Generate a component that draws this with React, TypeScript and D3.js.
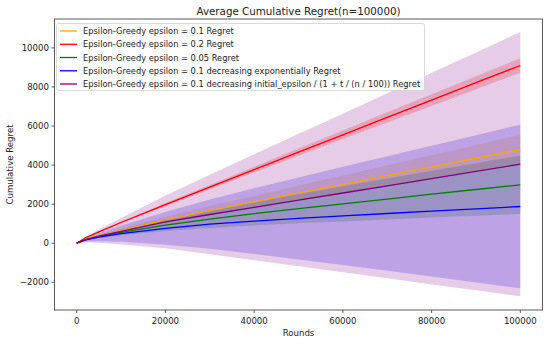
import React from "react";
import * as d3 from "d3";

const rounds = [0, 2000, 5000, 10000, 20000, 30000, 40000, 50000, 60000, 70000, 80000, 90000, 100000];

const seriesNames = [
  "Epsilon-Greedy epsilon = 0.1 Regret",
  "Epsilon-Greedy epsilon = 0.2 Regret",
  "Epsilon-Greedy epsilon = 0.05 Regret",
  "Epsilon-Greedy epsilon = 0.1 decreasing exponentially Regret",
  "Epsilon-Greedy epsilon = 0.1 decreasing initial_epsilon / (1 + t / (n / 100)) Regret",
];
const seriesColors = ["#FFA500", "#FF0000", "#008000", "#0000FF", "#800080"];

const meanEps01 = [0, 200, 390, 660, 1190, 1670, 2120, 2570, 3010, 3460, 3900, 4350, 4790];
const meanEps02 = [0, 280, 580, 1060, 1980, 2870, 3770, 4660, 5550, 6440, 7330, 8220, 9100];
const meanEps005 = [0, 180, 340, 560, 930, 1230, 1510, 1770, 2010, 2260, 2510, 2750, 2990];
const meanExp = [0, 170, 310, 490, 760, 980, 1130, 1270, 1400, 1520, 1640, 1760, 1880];
const meanInv = [0, 190, 360, 610, 1090, 1470, 1840, 2210, 2570, 2940, 3310, 3680, 4050];

const stdEps01 = [0, 15, 40, 80, 150, 230, 300, 380, 460, 530, 610, 680, 760];
const stdEps02 = [0, 10, 20, 40, 75, 110, 150, 185, 220, 260, 300, 335, 370];
const stdEps005 = [0, 30, 75, 150, 300, 450, 600, 750, 900, 1050, 1200, 1350, 1500];
const stdExp = [0, 84, 210, 420, 840, 1260, 1680, 2100, 2510, 2930, 3350, 3770, 4190];
const stdInv = [0, 140, 340, 680, 1350, 2030, 2710, 3390, 4060, 4740, 5420, 6090, 6770];

const xTicks = [0, 20000, 40000, 60000, 80000, 100000];
const yTicks = [-2000, 0, 2000, 4000, 6000, 8000, 10000];

const means = [meanEps01, meanEps02, meanEps005, meanExp, meanInv];
const stds = [stdEps01, stdEps02, stdEps005, stdExp, stdInv];

const W = 549;
const H = 344;
const L = 54.5, R = 542.5, T = 19, B = 310;
const FONT = "DejaVu Sans, sans-serif";

export default function App() {
  const x = d3.scaleLinear().domain([-5000, 105000]).range([L, R]);
  const y = d3.scaleLinear().domain([-3420, 11480]).range([B, T]);

  const line = d3
    .line<number>()
    .x((_, i) => x(rounds[i]))
    .y((d) => y(d));
  const area = (m: number[], s: number[]) =>
    d3
      .area<number>()
      .x((_, i) => x(rounds[i]))
      .y0((d, i) => y(d - s[i]))
      .y1((d, i) => y(d + s[i]))(m) as string;

  const legendX = 56.5, legendY = 23.5, legendW = 368, legendH = 67;
  const rowY = [31, 44.3, 57.5, 70.8, 84];

  return (
    <svg width={W} height={H} style={{ position: "absolute", left: 0, top: 0, background: "#fff" }}>
      <rect x={0} y={0} width={W} height={H} fill="#fff" />
      <text x={(L + R) / 2} y={15} textAnchor="middle" fontFamily={FONT} fontSize={10.3} fill="#222">
        Average Cumulative Regret(n=100000)
      </text>
      <g>
        {means.map((m, i) => (
          <path key={"b" + i} d={area(m, stds[i])} fill={seriesColors[i]} fillOpacity={0.2} stroke="none" />
        ))}
        {means.map((m, i) => (
          <path key={"l" + i} d={line(m) as string} fill="none" stroke={seriesColors[i]} strokeWidth={1.3} />
        ))}
      </g>
      <rect x={L} y={T} width={R - L} height={B - T} fill="none" stroke="#333" strokeWidth={0.8} />
      {xTicks.map((t) => (
        <g key={"x" + t}>
          <line x1={x(t)} x2={x(t)} y1={B} y2={B + 3} stroke="#333" strokeWidth={0.8} />
          <text x={x(t)} y={B + 13.5} textAnchor="middle" fontFamily={FONT} fontSize={8.6} fill="#222">
            {t}
          </text>
        </g>
      ))}
      {yTicks.map((t) => (
        <g key={"y" + t}>
          <line x1={L - 3} x2={L} y1={y(t)} y2={y(t)} stroke="#333" strokeWidth={0.8} />
          <text x={L - 5.5} y={y(t) + 3} textAnchor="end" fontFamily={FONT} fontSize={8.6} fill="#222">
            {t < 0 ? "\u2212" + Math.abs(t) : t}
          </text>
        </g>
      ))}
      <text x={(L + R) / 2} y={336} textAnchor="middle" fontFamily={FONT} fontSize={8.6} fill="#222">
        Rounds
      </text>
      <text transform={`translate(13,${(T + B) / 2}) rotate(-90)`} textAnchor="middle" fontFamily={FONT} fontSize={8.6} fill="#222">
        Cumulative Regret
      </text>
      <rect x={legendX} y={legendY} width={legendW} height={legendH} rx={2} fill="#fff" fillOpacity={0.8} stroke="#d0d0d0" strokeWidth={0.8} />
      {seriesNames.map((n, i) => (
        <g key={"lg" + i}>
          <line x1={60} x2={77} y1={rowY[i]} y2={rowY[i]} stroke={seriesColors[i]} strokeWidth={1.3} />
          <text x={83} y={rowY[i] + 3} fontFamily={FONT} fontSize={8.3} fill="#222">
            {n}
          </text>
        </g>
      ))}
    </svg>
  );
}
